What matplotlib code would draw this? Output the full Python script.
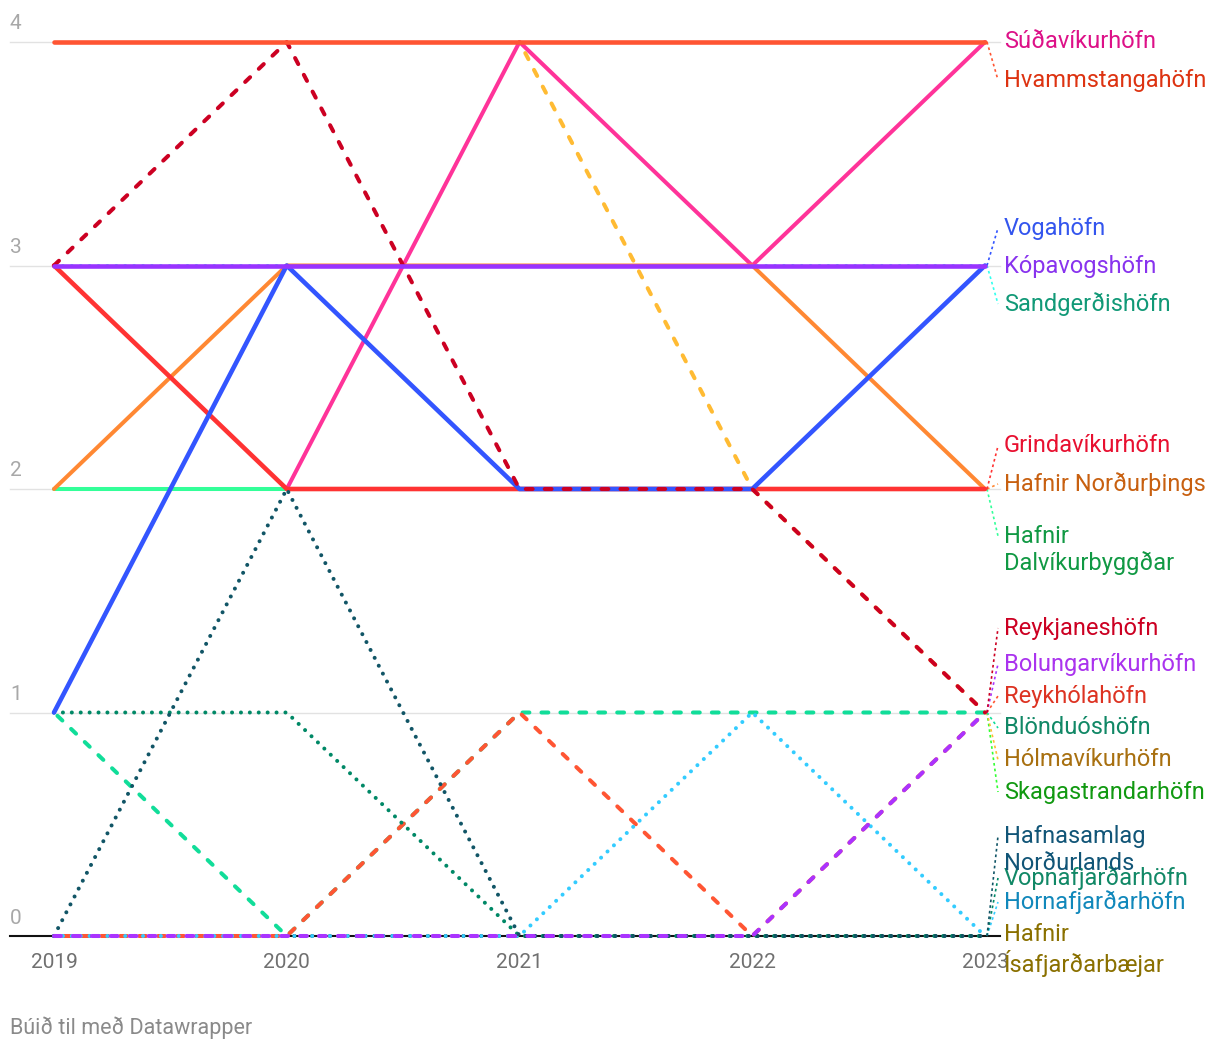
import numpy as np
import matplotlib
matplotlib.use("Agg")
import matplotlib.pyplot as plt

nan = np.nan
years = [2019, 2020, 2021, 2022, 2023]

names = [
    "Hafnir\nÍsafjarðarbæjar", "Skagastrandarhöfn", "Sandgerðishöfn", "Hólmavíkurhöfn",
    "Súðavíkurhöfn", "Hafnir\nDalvíkurbyggðar", "Hafnir Norðurþings", "Grindavíkurhöfn",
    "Blönduóshöfn", "Reykhólahöfn", "Hornafjarðarhöfn", "Vopnafjarðarhöfn",
    "Hafnasamlag\nNorðurlands", "Bolungarvíkurhöfn", "Vogahöfn", "Reykjaneshöfn",
    "Kópavogshöfn", "Hvammstangahöfn",
]

values = {
    "Hafnir\nÍsafjarðarbæjar": [0, 0, 0, 0, 0],
    "Skagastrandarhöfn": [nan, nan, nan, nan, 1],
    "Sandgerðishöfn": [3, 3, 3, 3, 3],
    "Hólmavíkurhöfn": [nan, nan, 4, 2, 1],
    "Súðavíkurhöfn": [nan, 2, 4, 3, 4],
    "Hafnir\nDalvíkurbyggðar": [2, 2, 2, 2, 2],
    "Hafnir Norðurþings": [2, 3, 3, 3, 2],
    "Grindavíkurhöfn": [3, 2, 2, 2, 2],
    "Blönduóshöfn": [1, 0, 1, 1, 1],
    "Reykhólahöfn": [0, 0, 1, 0, 1],
    "Hornafjarðarhöfn": [0, 0, 0, 1, 0],
    "Vopnafjarðarhöfn": [1, 1, 0, 0, 0],
    "Hafnasamlag\nNorðurlands": [0, 2, 0, 0, 0],
    "Bolungarvíkurhöfn": [0, 0, 0, 0, 1],
    "Vogahöfn": [1, 3, 2, 2, 3],
    "Reykjaneshöfn": [3, 4, 2, 2, 1],
    "Kópavogshöfn": [3, 3, 3, 3, 3],
    "Hvammstangahöfn": [4, 4, 4, 4, 4],
}

line_colors = {
    "Hafnir\nÍsafjarðarbæjar": "#222222", "Skagastrandarhöfn": "#33ff33",
    "Sandgerðishöfn": "#33ffee", "Hólmavíkurhöfn": "#ffbb33",
    "Hafnir\nDalvíkurbyggðar": "#33ff99", "Hafnir Norðurþings": "#ff8833",
    "Grindavíkurhöfn": "#ff3333", "Blönduóshöfn": "#11dd99",
    "Reykhólahöfn": "#ff5533", "Hornafjarðarhöfn": "#33ccff",
    "Vopnafjarðarhöfn": "#008866", "Hafnasamlag\nNorðurlands": "#115566",
    "Bolungarvíkurhöfn": "#aa33ff", "Súðavíkurhöfn": "#ff3399",
    "Vogahöfn": "#3355ff", "Reykjaneshöfn": "#cc0022",
    "Kópavogshöfn": "#9933ff", "Hvammstangahöfn": "#ff5533",
}
label_colors = {
    "Hafnir\nÍsafjarðarbæjar": "#8a7000", "Skagastrandarhöfn": "#119911",
    "Sandgerðishöfn": "#119977", "Hólmavíkurhöfn": "#a87010",
    "Hafnir\nDalvíkurbyggðar": "#119944", "Hafnir Norðurþings": "#c86010",
    "Grindavíkurhöfn": "#e81030", "Blönduóshöfn": "#118866",
    "Reykhólahöfn": "#dd3322", "Hornafjarðarhöfn": "#1188bb",
    "Vopnafjarðarhöfn": "#118866", "Hafnasamlag\nNorðurlands": "#115577",
    "Bolungarvíkurhöfn": "#aa33ee", "Súðavíkurhöfn": "#dd1188",
    "Vogahöfn": "#3355ee", "Reykjaneshöfn": "#cc0022",
    "Kópavogshöfn": "#8833ee", "Hvammstangahöfn": "#dd3311",
}
styles = {
    "Hafnir\nÍsafjarðarbæjar": "dotted", "Skagastrandarhöfn": "dotted",
    "Sandgerðishöfn": "dotted", "Hólmavíkurhöfn": "dashed",
    "Hafnir\nDalvíkurbyggðar": "solid", "Hafnir Norðurþings": "solid",
    "Grindavíkurhöfn": "solid", "Blönduóshöfn": "dashed",
    "Reykhólahöfn": "dashed", "Hornafjarðarhöfn": "dotted",
    "Vopnafjarðarhöfn": "dotted", "Hafnasamlag\nNorðurlands": "dotted",
    "Bolungarvíkurhöfn": "dashed", "Súðavíkurhöfn": "solid",
    "Vogahöfn": "solid", "Reykjaneshöfn": "dashed",
    "Kópavogshöfn": "solid", "Hvammstangahöfn": "solid",
}
# first-line label placement in pixels (layout)
label_px = {
    "Súðavíkurhöfn": 42, "Hvammstangahöfn": 80, "Vogahöfn": 228, "Kópavogshöfn": 266,
    "Sandgerðishöfn": 304, "Grindavíkurhöfn": 446, "Hafnir Norðurþings": 484,
    "Hafnir\nDalvíkurbyggðar": 536, "Reykjaneshöfn": 628, "Bolungarvíkurhöfn": 664,
    "Reykhólahöfn": 696, "Blönduóshöfn": 728, "Hólmavíkurhöfn": 760,
    "Skagastrandarhöfn": 792, "Hafnasamlag\nNorðurlands": 836,
    "Vopnafjarðarhöfn": 878, "Hornafjarðarhöfn": 902, "Hafnir\nÍsafjarðarbæjar": 936,
}
# dashed lines whose hidden stretch shares the dash phase of the line drawn on top
# (resolved in this order)
phase_chain = [("Reykhólahöfn", "Bolungarvíkurhöfn", 3),
               ("Hólmavíkurhöfn", "Reykjaneshöfn", 3),
               ("Blönduóshöfn", "Reykhólahöfn", 1)]
thick = {"Kópavogshöfn", "Hvammstangahöfn", "Grindavíkurhöfn", "Vogahöfn"}
yticks = [0, 1, 2, 3, 4]

W, H = 1220, 1052
fig = plt.figure(figsize=(W / 100, H / 100), dpi=100)
x0p, x1p, y0p, y1p = 54, 985, 936, 42
ax = fig.add_axes([x0p / W, 1 - y0p / H, (x1p - x0p) / W, (y0p - y1p) / H])
ax.set_xlim(2019, 2023)
ax.set_ylim(0, 4)
ax.axis("off")

sx = (x1p - x0p) / 4.0
sy = (y0p - y1p) / 4.0
px2x = lambda p: 2019 + (p - x0p) / sx
px2y = lambda p: (y0p - p) / sy

fam = ["Roboto", "DejaVu Sans"]

for t in yticks:
    if t != 0:
        ax.plot([px2x(10), px2x(1000)], [t, t], color="#e2e2e2", lw=1.0,
                clip_on=False, zorder=0)
    ax.text(px2x(10), t + 18 / sy, str(t), color="#a8a8a8", fontsize=15, family=fam,
            ha="left", va="center")
ax.plot([px2x(10), px2x(1000)], [0, 0], color="#111111", lw=1.5, clip_on=False, zorder=1.5)

for yr in years:
    ax.text(yr, px2y(962), str(yr), color="#707070", fontsize=15, family=fam,
            ha="center", va="center")

lw = 2.9
DASH = (1.7, 3.0)
DOT = (0.01, 2.2)
period = sum(DASH)


def path_len_pts(name, upto):
    v = np.array(values[name], dtype=float)
    pts = ax.transData.transform(np.column_stack([years, v]))
    pts = pts[: upto + 1]
    pts = pts[~np.isnan(pts).any(axis=1)]
    return np.sum(np.hypot(*np.diff(pts, axis=0).T)) * 72 / 100


offsets = {n: 0.0 for n in names}
for n, other, idx in phase_chain:
    d = offsets[other] + (path_len_pts(other, idx) - path_len_pts(n, idx)) / lw
    offsets[n] = d % period

for i, n in enumerate(names):
    st = styles[n]
    z = 2 + i * 0.1
    if n == "Hafnir\nÍsafjarðarbæjar":
        z = 1
    vals = np.array(values[n], dtype=float)
    w = 3.3 if n in thick else lw
    kw = dict(color=line_colors[n], lw=w, zorder=z, clip_on=False)
    if st == "solid":
        ax.plot(years, vals, solid_capstyle="round", solid_joinstyle="round", **kw)
    elif st == "dashed":
        ax.plot(years, vals, linestyle=(offsets[n], DASH), dash_capstyle="round", **kw)
    else:
        ax.plot(years, vals, linestyle=(0, DOT), dash_capstyle="round", **kw)

    v_end = vals[-1]
    nl = n.count("\n")
    ly_first = px2y(label_px[n])
    ly_center = px2y(label_px[n] + nl * 14)
    if abs(label_px[n] - (y0p - v_end * sy)) > 3:
        ax.plot([px2x(987), px2x(998)], [v_end, ly_first], color=line_colors[n], lw=1.2,
                linestyle=(0, (1.6, 1.8)), clip_on=False, zorder=z)
    ax.text(px2x(1004), ly_center, n, color=label_colors[n], fontsize=17, family=fam,
            ha="left", va="center", linespacing=1.18)

fig.text(10 / W, 1 - 1028 / H, "Búið til með Datawrapper", color="#8a8a8a",
         fontsize=15.5, family=fam, ha="left", va="center")

fig.savefig("out.png", dpi=100, facecolor="white")
